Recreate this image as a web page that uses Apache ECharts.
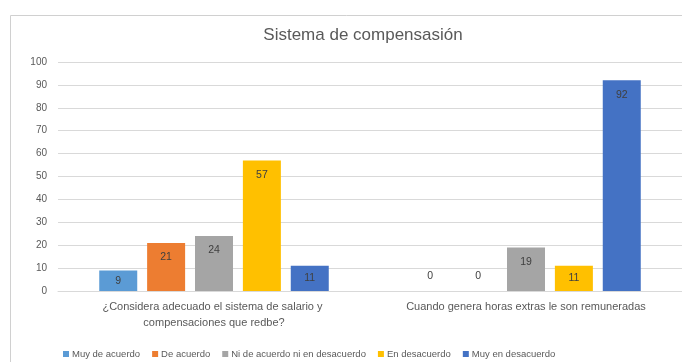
<!DOCTYPE html>
<html>
<head>
<meta charset="utf-8">
<script src="https://cdn.jsdelivr.net/npm/echarts@6/dist/echarts.min.js"></script>
<style>
  html, body { margin: 0; padding: 0; background: #fff; }
  #chart { width: 682px; height: 362px; }
</style>
</head>
<body>
<div id="chart"></div>
<script>
// Survey questions (categories)
const categories = [
  '¿Considera adecuado el sistema de salario y compensaciones que redbe?',
  'Cuando genera horas extras le son remuneradas'
];
// Response options (series) and their counts per question
const seriesNames = ['Muy de acuerdo', 'De acuerdo', 'Ni de acuerdo ni en desacuerdo', 'En desacuerdo', 'Muy en desacuerdo'];
const muyDeAcuerdo = [9, 0];
const deAcuerdo = [21, 0];
const niDeAcuerdo = [24, 19];
const enDesacuerdo = [57, 11];
const muyEnDesacuerdo = [11, 92];
const seriesColors = ['#5B9BD5', '#ED7D31', '#A5A5A5', '#FFC000', '#4472C4'];
const yTicks = { min: 0, max: 100, interval: 10 };

const FONT = 'Liberation Sans';
const values = [muyDeAcuerdo, deAcuerdo, niDeAcuerdo, enDesacuerdo, muyEnDesacuerdo];

// Label placement: above empty bars, centred in short bars, near the top otherwise
function labelFor(v) {
  if (v === 0) return { position: 'top', distance: 9 };
  if (v < 12) return { position: 'inside' };
  return { position: 'insideTop', distance: 9 };
}

const chart = echarts.init(document.getElementById('chart'));
chart.setOption({
  animation: false,
  textStyle: { fontFamily: FONT },
  title: {
    text: 'Sistema de compensasión',
    left: 358, top: 22, textAlign: 'center',
    textStyle: { fontFamily: FONT, fontSize: 17, fontWeight: 'normal', color: '#595959' }
  },
  graphic: [{
    type: 'rect', left: 8, top: 13,
    shape: { width: 700, height: 360 },
    style: { fill: 'none', stroke: '#d0d0d0', lineWidth: 1 },
    silent: true
  }],
  legend: {
    data: seriesNames,
    left: 58, top: 344,
    itemWidth: 6, itemHeight: 6, itemGap: 12,
    icon: 'rect',
    textStyle: { fontFamily: FONT, fontSize: 9.5, color: '#595959', padding: [0, 0, 0, -2] }
  },
  grid: { left: 58, top: 62, width: 638, height: 229, containLabel: false },
  xAxis: {
    type: 'category',
    data: categories,
    axisTick: { show: false },
    axisLine: { lineStyle: { color: '#d9d9d9' } },
    axisLabel: {
      interval: 0, margin: 8,
      width: 250, overflow: 'break',
      fontFamily: FONT, fontSize: 11, color: '#595959', lineHeight: 16
    }
  },
  yAxis: {
    type: 'value',
    min: yTicks.min, max: yTicks.max, interval: yTicks.interval,
    axisLine: { show: false },
    axisTick: { show: false },
    axisLabel: { fontFamily: FONT, fontSize: 10, color: '#595959', margin: 11 },
    splitLine: { lineStyle: { color: '#d9d9d9' } }
  },
  series: seriesNames.map((name, i) => ({
    name,
    type: 'bar',
    barWidth: 38,
    barGap: '26%',
    itemStyle: { color: seriesColors[i] },
    data: values[i].map(v => ({ value: v, label: labelFor(v) })),
    label: {
      show: true,
      fontFamily: FONT, fontSize: 10.5, color: '#404040'
    }
  }))
});
</script>
</body>
</html>
